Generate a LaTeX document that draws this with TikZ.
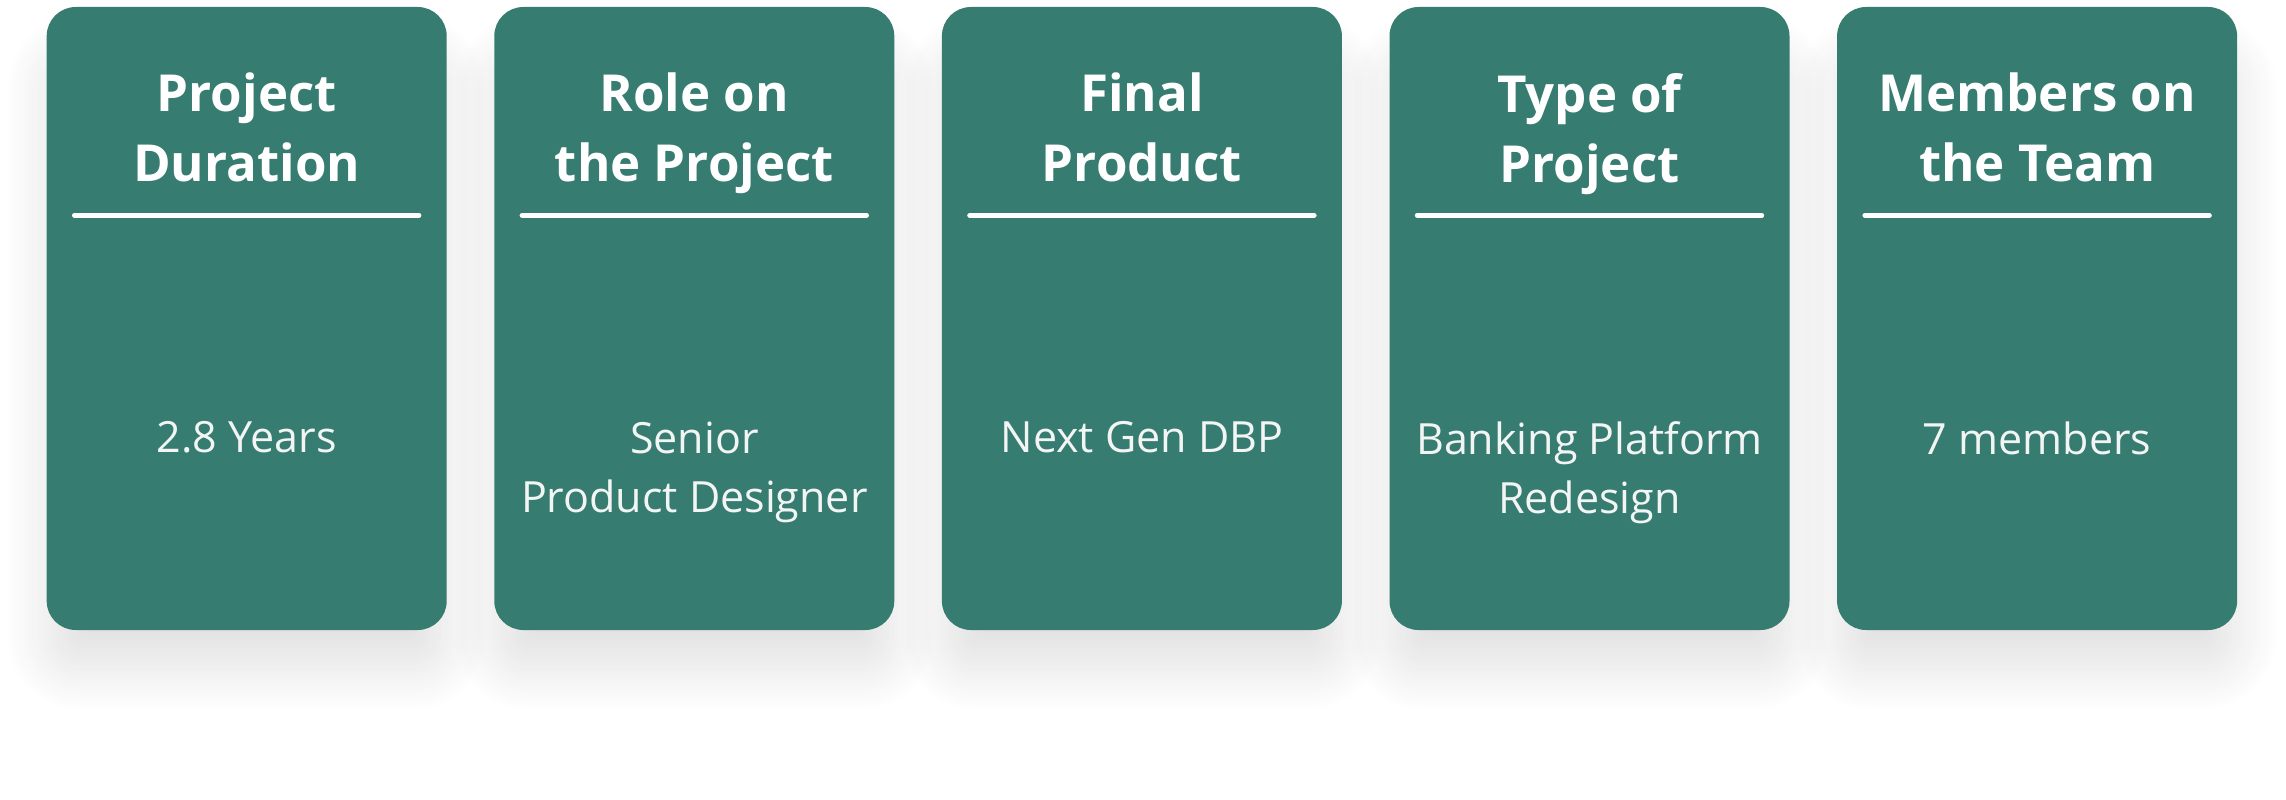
\documentclass[tikz,border=0pt]{standalone}
\usepackage{fontspec}
\setmainfont{Open Sans}
\usetikzlibrary{positioning,shadows.blur}

\definecolor{verdeTarjeta}{HTML}{367C70}
\definecolor{textoValor}{HTML}{F2F5F4}

\tikzset{
  tarjeta/.style={rectangle, rounded corners=29pt, fill=verdeTarjeta,
    minimum width=400pt, minimum height=623pt, inner sep=0pt,
    blur shadow={shadow xshift=0pt, shadow yshift=-45pt, shadow scale=0.97,
      shadow blur radius=50pt, shadow blur steps=20, shadow opacity=13}},
  titulo/.style={anchor=north, inner sep=0pt, align=center, text=white,
    font=\fontsize{51}{70}\selectfont\bfseries},
  regla/.style={draw=white, line width=5pt, line cap=round},
  valor/.style={anchor=north, inner sep=0pt, align=center, text=textoValor,
    font=\fontsize{43}{59}\selectfont}
}

\begin{document}
\begin{tikzpicture}[x=1pt,y=1pt]
  % Marco
  \useasboundingbox (0,0) rectangle (2286,-800);

  % Tarjetas
  \foreach \i/\tit/\val in {1/{Project\\Duration}/{2.8 Years},
      2/{Role on\\the Project}/{Senior\\Product Designer},
      3/{Final\\Product}/{Next Gen DBP},
      4/{Type of\\Project}/{Banking Platform\\Redesign},
      5/{Members on\\the Team}/{7 members}} {
    \pgfmathsetmacro\x{246.7+447.6*(\i-1)}
    \node[tarjeta] (card\i) at (\x,-318.5) {};

    % Titulo y linea
    \node[titulo, below=66pt of card\i.north] (tit\i) {\tit};
    \coordinate (ra\i) at ([xshift=28pt,yshift=-208.5pt]card\i.north west);
    \coordinate (rb\i) at ([xshift=-28pt,yshift=-208.5pt]card\i.north east);
    \draw[regla] (ra\i) -- (rb\i);

    % Valor
    \node[valor, below=414.5pt of card\i.north] (val\i) {\val};
  }
\end{tikzpicture}
\end{document}
